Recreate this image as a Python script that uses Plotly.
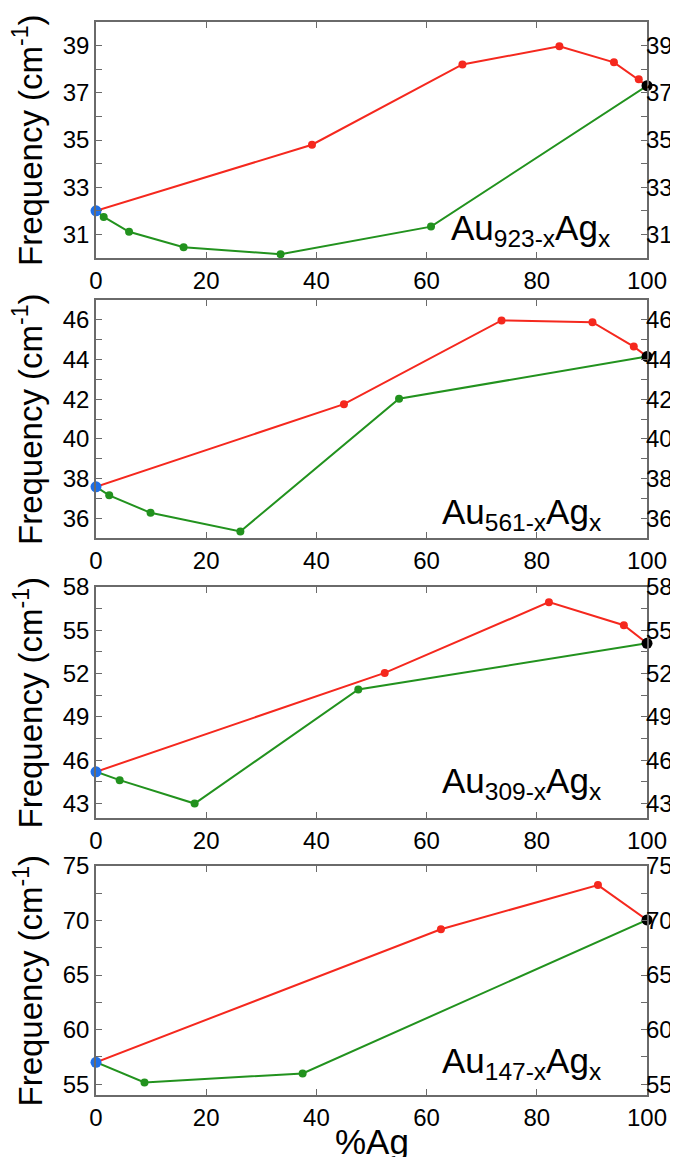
import plotly.graph_objects as go

# ---------------- data ----------------
labels = ["923", "561", "309", "147"]

red_x_923 = [0, 39.2, 66.5, 84.1, 94.0, 98.5, 100]
red_y_923 = [32.0, 34.8, 38.2, 38.97, 38.29, 37.57, 37.3]
green_x_923 = [0, 1.4, 6.0, 15.9, 33.5, 60.8, 100]
green_y_923 = [32.0, 31.74, 31.11, 30.46, 30.16, 31.33, 37.3]

red_x_561 = [0, 45.0, 73.6, 90.1, 97.6, 100]
red_y_561 = [37.58, 41.75, 45.97, 45.88, 44.65, 44.15]
green_x_561 = [0, 2.4, 9.9, 26.2, 55.0, 100]
green_y_561 = [37.58, 37.15, 36.27, 35.33, 42.02, 44.15]

red_x_309 = [0, 52.4, 82.2, 95.8, 100]
red_y_309 = [45.2, 52.05, 56.95, 55.35, 54.1]
green_x_309 = [0, 4.3, 17.9, 47.6, 100]
green_y_309 = [45.2, 44.62, 43.0, 50.9, 54.1]

red_x_147 = [0, 62.6, 91.1, 100]
red_y_147 = [57.0, 69.2, 73.25, 70.05]
green_x_147 = [0, 8.8, 37.5, 100]
green_y_147 = [57.0, 55.15, 55.98, 70.05]

y_ranges = [[30, 40], [35, 47], [42, 58], [54, 75]]
y_tick0 = [31, 36, 43, 55]
y_dtick = [2, 2, 3, 5]
y_minor = [1, 1, 1.5, 2.5]
x_ticks = [0, 20, 40, 60, 80, 100]

panels = [
    (red_x_923, red_y_923, green_x_923, green_y_923),
    (red_x_561, red_y_561, green_x_561, green_y_561),
    (red_x_309, red_y_309, green_x_309, green_y_309),
    (red_x_147, red_y_147, green_x_147, green_y_147),
]

# ---------------- style ----------------
RED = "#f5281e"
GREEN = "#22921e"
BLUE = "#1f6fe6"
BLACK = "#000000"
AXC = "#6a6a6a"
FONT = "Liberation Sans, Arial, sans-serif"
TICK_SIZE = 24

# page body has an 8px margin, so the figure is 8px smaller and all
# reference pixel positions are shifted by -8
OFF = 8
W, H = 678 - OFF, 1157 - OFF
ML, MR, MT, MB = 96 - OFF, 31, 22 - OFF, 62
PW = W - ML - MR
PH = H - MT - MB
panel_px_ref = [(22, 258), (300, 538), (587, 818), (866, 1095)]
panel_px = [(a - OFF, b - OFF) for a, b in panel_px_ref]
ann_pos = [(0.936, 0.12), (0.92, 0.10), (0.92, 0.15), (0.92, 0.14)]

fig = go.Figure()
layout = dict(
    width=W, height=H,
    margin=dict(l=ML, r=MR, t=MT, b=MB, pad=0, autoexpand=False),
    paper_bgcolor="white", plot_bgcolor="white",
    showlegend=False,
    font=dict(family=FONT, color="black", size=TICK_SIZE),
)
annotations = []

for i, (rx, ry, gx, gy) in enumerate(panels):
    n = i + 1
    xa = "x" if n == 1 else f"x{n}"
    ya = "y" if n == 1 else f"y{n}"
    yr = f"y{n + 4}"
    top, bot = panel_px[i]
    dom = [(H - MB - bot) / PH, (H - MB - top) / PH]

    fig.add_trace(go.Scatter(x=gx[1:-1], y=gy[1:-1], mode="markers",
                             marker=dict(color=GREEN, size=8), xaxis=xa, yaxis=ya))
    fig.add_trace(go.Scatter(x=gx, y=gy, mode="lines",
                             line=dict(color=GREEN, width=2), xaxis=xa, yaxis=ya))
    fig.add_trace(go.Scatter(x=rx[1:-1], y=ry[1:-1], mode="markers",
                             marker=dict(color=RED, size=8), xaxis=xa, yaxis=ya))
    fig.add_trace(go.Scatter(x=rx, y=ry, mode="lines",
                             line=dict(color=RED, width=2), xaxis=xa, yaxis=ya))
    fig.add_trace(go.Scatter(x=[rx[0]], y=[ry[0]], mode="markers",
                             marker=dict(color=BLUE, size=11), xaxis=xa, yaxis=ya,
                             cliponaxis=False))
    fig.add_trace(go.Scatter(x=[rx[-1]], y=[ry[-1]], mode="markers",
                             marker=dict(color=BLACK, size=11), xaxis=xa, yaxis=yr,
                             cliponaxis=False))

    lo, hi = y_ranges[i]
    vals = []
    v = y_tick0[i]
    while v <= hi + 1e-9:
        vals.append(v)
        v += y_dtick[i]

    axkey_x = "xaxis" if n == 1 else f"xaxis{n}"
    axkey_y = "yaxis" if n == 1 else f"yaxis{n}"
    layout[axkey_x] = dict(
        domain=[0, 1], anchor=ya, range=[0, 100], automargin=False,
        tickvals=x_ticks, ticks="inside", ticklen=6, tickwidth=1, tickcolor=AXC,
        showline=True, linecolor=AXC, linewidth=1.5, mirror="ticks",
        showgrid=False, zeroline=False,
        tickfont=dict(size=TICK_SIZE, color="black"),
    )
    layout[axkey_y] = dict(
        domain=dom, anchor=xa, range=[lo, hi], automargin=False,
        tickvals=vals, ticks="inside", ticklen=6, tickwidth=1, tickcolor=AXC,
        minor=dict(dtick=y_minor[i], tick0=y_tick0[i], ticks="inside", ticklen=6,
                   tickcolor=AXC, showgrid=False),
        showline=True, linecolor=AXC, linewidth=1.5, mirror="ticks",
        showgrid=False, zeroline=False,
        tickfont=dict(size=TICK_SIZE, color="black"),
    )
    layout[f"yaxis{n + 4}"] = dict(
        overlaying=ya, side="right", anchor=xa, range=[lo, hi], automargin=False,
        tickvals=vals, ticks="", showline=False, showgrid=False, zeroline=False,
        ticklabelstandoff=-2,
        tickfont=dict(size=TICK_SIZE, color="black"),
    )

    cy = (H - MB - (top + bot) / 2) / PH
    annotations.append(dict(
        text="Frequency (cm<sup>-1</sup>)", textangle=-90,
        xref="paper", yref="paper", x=(28 - OFF - ML) / PW, y=cy,
        xanchor="center", yanchor="middle", showarrow=False,
        font=dict(size=33, color="black", family=FONT),
    ))
    ax_, ay_ = ann_pos[i]
    annotations.append(dict(
        text=f"Au<sub>{labels[i]}-x</sub>Ag<sub>x</sub>",
        xref=f"{xa} domain", yref=f"{ya} domain", x=ax_, y=ay_,
        xanchor="right", yanchor="middle", showarrow=False,
        font=dict(size=35, color="black", family=FONT),
    ))

annotations.append(dict(
    text="%Ag", xref="paper", yref="paper", x=0.5, y=-47 / PH,
    xanchor="center", yanchor="middle", showarrow=False,
    font=dict(size=35, color="black", family=FONT),
))
layout["annotations"] = annotations
fig.update_layout(**layout)
fig.write_html("out.html")
